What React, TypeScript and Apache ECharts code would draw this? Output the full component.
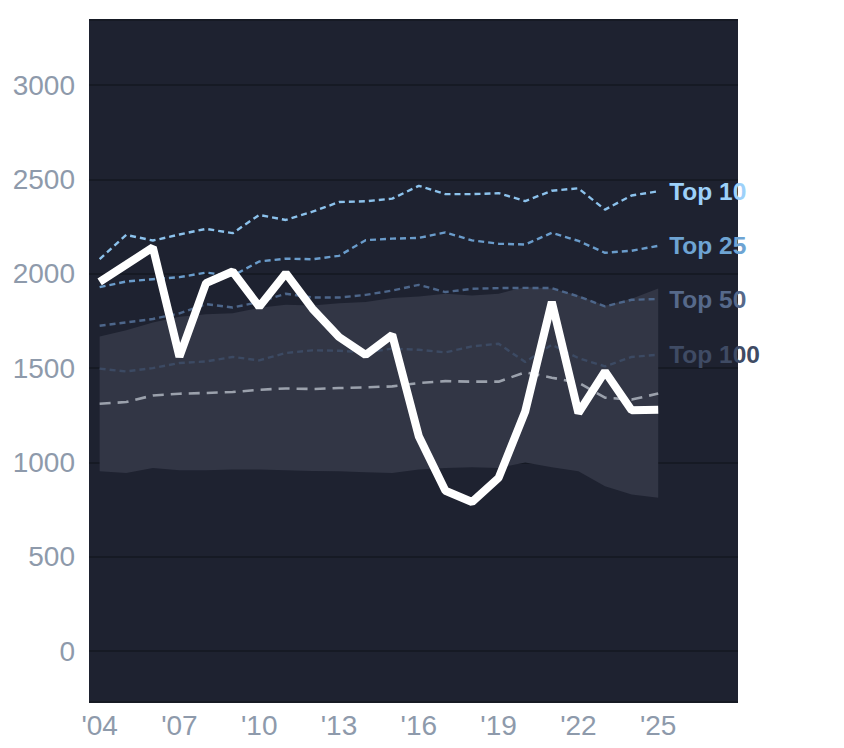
import React, { useEffect, useRef } from "react";
import * as echarts from "echarts";

const years = [2004, 2005, 2006, 2007, 2008, 2009, 2010, 2011, 2012, 2013, 2014, 2015, 2016, 2017, 2018, 2019, 2020, 2021, 2022, 2023, 2024, 2025];
const selected = [1957, 2048, 2140, 1560, 1950, 2012, 1825, 2003, 1815, 1665, 1570, 1676, 1138, 850, 790, 918, 1270, 1850, 1262, 1482, 1276, 1279];
const top10 = [2077, 2206, 2176, 2208, 2238, 2215, 2312, 2285, 2329, 2380, 2384, 2398, 2466, 2422, 2422, 2427, 2385, 2440, 2453, 2340, 2415, 2437];
const top25 = [1929, 1959, 1971, 1982, 2006, 1989, 2065, 2080, 2077, 2095, 2178, 2186, 2190, 2219, 2177, 2159, 2155, 2217, 2174, 2111, 2122, 2148];
const top50 = [1724, 1742, 1760, 1790, 1839, 1821, 1850, 1894, 1874, 1874, 1888, 1911, 1941, 1903, 1920, 1924, 1925, 1924, 1880, 1827, 1862, 1866];
const top100 = [1497, 1482, 1500, 1527, 1535, 1559, 1541, 1580, 1594, 1592, 1583, 1603, 1597, 1583, 1615, 1629, 1532, 1624, 1553, 1509, 1559, 1571];
const median = [1311, 1320, 1355, 1364, 1368, 1373, 1385, 1392, 1389, 1394, 1398, 1403, 1421, 1431, 1428, 1428, 1478, 1449, 1423, 1343, 1333, 1365];
const bandUpper = [1668, 1700, 1742, 1772, 1785, 1790, 1820, 1835, 1832, 1843, 1850, 1871, 1880, 1894, 1885, 1894, 1930, 1922, 1885, 1830, 1868, 1922];
const bandLower = [953, 944, 971, 958, 958, 962, 962, 958, 955, 953, 948, 944, 962, 971, 974, 971, 999, 974, 953, 874, 830, 812];

const tierNames = ["Top 10", "Top 25", "Top 50", "Top 100"];
const tierValues = [top10, top25, top50, top100];
const tierLineColors = ["#8cc2ec", "#6a9ccb", "#4d668a", "#3c4a63"];
const tierLabelColors = ["#9dd1fa", "#6ea4d3", "#56698a", "#3f4b64"];

const FONT = "'Liberation Sans', Arial, Helvetica, sans-serif";

export default function App() {
  const ref = useRef<HTMLDivElement>(null);

  useEffect(() => {
    if (!ref.current) return;
    const chart = echarts.init(ref.current, undefined, { renderer: "svg" });

    const pairs = (vals: number[]) => years.map((y, i) => [y, vals[i]]);

    const tierSeries = tierNames.map((name, k) => ({
      name,
      type: "line",
      data: pairs(tierValues[k]),
      showSymbol: false,
      symbol: "none",
      z: 3,
      lineStyle: { color: tierLineColors[k], width: 2.4, type: [6, 4] },
      endLabel: {
        show: true,
        formatter: name,
        color: tierLabelColors[k],
        fontSize: 24.5,
        fontWeight: "bold",
        fontFamily: FONT,
        distance: 11,
      },
    }));

    const option: any = {
      animation: false,
      grid: {
        left: 89,
        right: 106,
        top: 20,
        bottom: 46,
        show: true,
        backgroundColor: "#1e2230",
        borderWidth: 0,
        containLabel: false,
      },
      xAxis: {
        type: "value",
        min: 2003.6,
        max: 2028,
        splitNumber: 8,
        axisLine: { show: false },
        axisTick: { show: false },
        splitLine: { show: false },
        axisLabel: {
          color: "#8e9aab",
          fontSize: 28,
          fontFamily: FONT,
          margin: 9,
          formatter: (v: number) => {
            const r = Math.round(v);
            if (Math.abs(v - r) > 1e-6 || r < 2004 || r > 2025) return "";
            return "'" + String(r).slice(2);
          },
        },
      },
      yAxis: {
        type: "value",
        min: -270,
        max: 3345,
        splitNumber: 7,
        axisLine: { show: false },
        axisTick: { show: false },
        splitLine: { show: true, lineStyle: { color: "#161a24", width: 2 } },
        axisLabel: {
          color: "#8e9aab",
          fontSize: 28,
          fontFamily: FONT,
          margin: 14,
          formatter: (v: number) => {
            const r = Math.round(v);
            if (Math.abs(v - r) > 1e-6 || r % 500 !== 0 || r < 0 || r > 3000) return "";
            return String(r);
          },
        },
      },
      series: [
        {
          name: "band",
          type: "custom",
          silent: true,
          z: 1,
          data: [[years[0], bandLower[0]]],
          renderItem: (_params: any, api: any) => {
            const top = years.map((y, i) => api.coord([y, bandUpper[i]]));
            const bottom = years.map((y, i) => api.coord([y, bandLower[i]])).reverse();
            return {
              type: "polygon",
              shape: { points: top.concat(bottom) },
              style: { fill: "#323645" },
            };
          },
        },
        ...tierSeries,
        {
          name: "Median",
          type: "line",
          data: pairs(median),
          showSymbol: false,
          symbol: "none",
          z: 4,
          lineStyle: { color: "#9ba1ac", width: 2.6, type: [11, 7] },
        },
        {
          name: "Selected",
          type: "line",
          data: pairs(selected),
          showSymbol: false,
          symbol: "none",
          z: 5,
          lineStyle: { color: "#ffffff", width: 8 },
        },
      ],
    };

    chart.setOption(option);
    return () => chart.dispose();
  }, []);

  return (
    <div
      ref={ref}
      style={{ position: "fixed", left: 0, top: 0, width: 844, height: 748, background: "#ffffff" }}
    />
  );
}
